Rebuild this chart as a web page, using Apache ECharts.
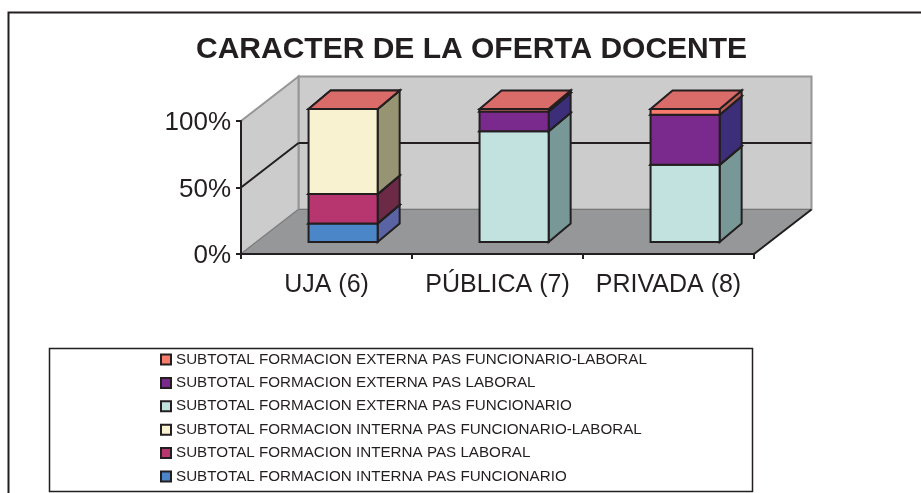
<!DOCTYPE html>
<html>
<head>
<meta charset="utf-8">
<title>CARACTER DE LA OFERTA DOCENTE</title>
<script src="https://cdn.jsdelivr.net/npm/echarts@6/dist/echarts.min.js"></script>
<style>
  html, body { margin: 0; padding: 0; background: #fff; }
  #chart { width: 921px; height: 493px; }
</style>
</head>
<body>
<div id="chart"></div>
<script>
const categories = ['UJA (6)', 'PÚBLICA (7)', 'PRIVADA (8)']
const yTicks = [0, 50, 100]

// stacked shares in %, bottom of the stack first
const internaFuncionario = [14, 0, 0]
const internaLaboral = [22, 0, 0]
const internaMixto = [64, 0, 0]
const externaFuncionario = [0, 83.2, 58]
const externaLaboral = [0, 15, 37.7]
const externaMixto = [0, 1.8, 4.3]

const stackNames = [
  'SUBTOTAL FORMACION INTERNA PAS FUNCIONARIO',
  'SUBTOTAL FORMACION INTERNA PAS LABORAL',
  'SUBTOTAL FORMACION INTERNA PAS FUNCIONARIO-LABORAL',
  'SUBTOTAL FORMACION EXTERNA PAS FUNCIONARIO',
  'SUBTOTAL FORMACION EXTERNA PAS LABORAL',
  'SUBTOTAL FORMACION EXTERNA PAS FUNCIONARIO-LABORAL'
]
const stackValues = [internaFuncionario, internaLaboral, internaMixto, externaFuncionario, externaLaboral, externaMixto]
const frontColors = ['#4a86c8', '#b83670', '#f8f2d0', '#c2e2e0', '#7a2a8c', '#f87c6c']
const sideColors = ['#5a64a4', '#6c2a46', '#969472', '#789898', '#3c2e78', '#b85c54']
const topColors = ['#4a86c8', '#b83670', '#d96b68', '#d96b68', '#d96b68', '#d96b68']

const ink = '#231f20'
const wallDepth = [57.5, -44.5]
const barShift = [16.6, -12]
const barDepth = [22, -18.5]
const barShare = 0.404

const myChart = echarts.init(document.getElementById('chart'))

function poly(points, fill, stroke, width) {
  return {
    type: 'polygon',
    shape: { points: points },
    style: { fill: fill, stroke: stroke, lineWidth: width, lineJoin: 'miter' }
  }
}

function line(a, b, stroke, width) {
  return {
    type: 'line',
    shape: { x1: a[0], y1: a[1], x2: b[0], y2: b[1] },
    style: { stroke: stroke, lineWidth: width }
  }
}

function back(p) {
  return [p[0] + wallDepth[0], p[1] + wallDepth[1]]
}

// walls and floor of the 3D box
function renderBox(params, api) {
  const band = api.size([1, 0])[0]
  const x0 = api.coord([0, 0])[0] - band / 2
  const x1 = api.coord([categories.length - 1, 0])[0] + band / 2
  const y = v => api.coord([0, v])[1]
  const gl = [x0, y(0)], gr = [x1, y(0)], tl = [x0, y(100)]
  const children = [
    poly([back(gl), back(tl), back([x1, y(100)]), back(gr)], '#cccccc', '#969696', 2),
    poly([gl, tl, back(tl), back(gl)], '#cccccc', '#969696', 2),
    poly([gl, gr, back(gr), back(gl)], '#969798', '#777777', 1),
    line(gr, back(gr), ink, 2)
  ]
  yTicks.slice(1, -1).forEach(v => {
    const p = [x0, y(v)]
    children.push(line(p, back(p), ink, 2))
    children.push(line(back(p), back([x1, y(v)]), ink, 2))
  })
  return { type: 'group', children: children }
}

function renderSegment(k) {
  return function (params, api) {
    const band = api.size([1, 0])[0]
    const w = band * barShare
    const a = api.coord([api.value(0), api.value(1)])
    const b = api.coord([api.value(0), api.value(2)])
    const xl = a[0] + barShift[0] - w / 2
    const xr = xl + w
    const yb = a[1] + barShift[1]
    const yt = b[1] + barShift[1]
    const dx = barDepth[0], dy = barDepth[1]
    return {
      type: 'group',
      children: [
        poly([[xr, yb], [xr + dx, yb + dy], [xr + dx, yt + dy], [xr, yt]], sideColors[k], ink, 2),
        poly([[xl, yt], [xr, yt], [xr + dx, yt + dy], [xl + dx, yt + dy]], topColors[k], ink, 2),
        poly([[xl, yb], [xr, yb], [xr, yt], [xl, yt]], frontColors[k], ink, 2)
      ]
    }
  }
}

const running = categories.map(() => 0)
const segmentSeries = stackNames.map((name, k) => {
  const data = categories.map((c, i) => {
    const start = running[i]
    running[i] += stackValues[k][i]
    return [i, start, running[i]]
  }).filter(d => k === stackNames.length - 1 || d[2] > d[1])
  return {
    name: name,
    type: 'custom',
    z: 3,
    itemStyle: { color: frontColors[k] },
    renderItem: renderSegment(k),
    encode: { x: 0, y: 2 },
    data: data
  }
})

myChart.setOption({
  animation: false,
  backgroundColor: '#ffffff',
  textStyle: { fontFamily: 'Liberation Sans', color: ink },
  title: {
    text: 'CARACTER DE LA OFERTA DOCENTE',
    left: 196,
    top: 35,
    padding: 0,
    textStyle: { fontFamily: 'Liberation Sans', fontWeight: 'bold', fontSize: 30, color: ink }
  },
  grid: { left: 241, top: 121, width: 513, height: 133 },
  xAxis: {
    type: 'category',
    data: categories,
    z: 2,
    axisLine: { lineStyle: { color: ink, width: 2 } },
    axisTick: { show: true, length: 5, lineStyle: { color: ink, width: 2 } },
    axisLabel: { color: ink, fontSize: 25, margin: 19, interval: 0, fontFamily: 'Liberation Sans' }
  },
  yAxis: {
    type: 'value',
    min: 0,
    max: 100,
    interval: 50,
    z: 2,
    splitLine: { show: false },
    axisLine: { show: true, lineStyle: { color: ink, width: 2 } },
    axisTick: { show: true, length: 5, lineStyle: { color: ink, width: 2 } },
    axisLabel: { color: ink, fontSize: 26, margin: 10, verticalAlign: 'top', lineHeight: 4, formatter: '{value}%', fontFamily: 'Liberation Sans' }
  },
  legend: {
    orient: 'vertical',
    left: 160,
    top: 352,
    width: 590,
    height: 140,
    padding: 0,
    itemWidth: 10,
    itemHeight: 10,
    itemGap: 8.4,
    icon: 'rect',
    data: stackNames.slice().reverse(),
    itemStyle: { borderColor: ink, borderWidth: 2 },
    textStyle: { fontFamily: 'Liberation Sans', fontSize: 15.2, color: ink, lineHeight: 14 }
  },
  graphic: [
    {
      type: 'polyline',
      silent: true,
      shape: { points: [[921, 12.5], [8.5, 12.5], [8.5, 493]] },
      style: { stroke: ink, lineWidth: 2, fill: null }
    },
    {
      type: 'rect',
      silent: true,
      z: -1,
      shape: { x: 49.5, y: 348.5, width: 703, height: 143 },
      style: { stroke: ink, lineWidth: 1.5, fill: '#ffffff' }
    }
  ],
  series: [
    { name: 'box', type: 'custom', z: 1, renderItem: renderBox, data: [[0, 0]], silent: true }
  ].concat(segmentSeries)
})
</script>
</body>
</html>
